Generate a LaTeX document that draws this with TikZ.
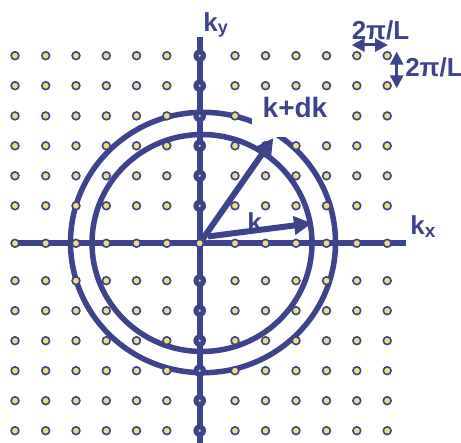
\documentclass[tikz,border=0pt]{standalone}
\usepackage{fontspec}
\setmainfont{Liberation Sans}
\usetikzlibrary{arrows.meta}
\definecolor{kblue}{RGB}{62,68,140}
\definecolor{kyellow}{RGB}{238,222,128}
\begin{document}
\begin{tikzpicture}[x=0.5pt, y=-0.5pt, >={Triangle[length=9pt,width=9pt]},
  latticept/.style={draw=kblue, fill=kyellow, line width=0.8pt},
  axisline/.style={draw=kblue, line width=3pt},
  shell/.style={draw=kblue, line width=2.75pt},
  vec/.style={draw=kblue, line width=3pt, ->},
  gap/.style={draw=kblue, line width=1.5pt, {Triangle[length=6.5pt,width=6.5pt]}-{Triangle[length=6.5pt,width=6.5pt]}},
  lbl/.style={text=kblue, font=\fontsize{13}{13}\selectfont\bfseries, inner sep=0pt}]
\useasboundingbox (0,0) rectangle (461,443);
\coordinate (O) at (199.7,243.3);
\coordinate (xl) at (12,243.3);
\coordinate (xr) at (406,243.3);
\coordinate (yt) at (199.7,37);
\coordinate (yb) at (199.7,443);
\coordinate (kstart) at (208,236.5);
\coordinate (ktip) at (312,223.2);
\coordinate (kdktip) at (273.3,138);
\coordinate (gl) at (351.7,45);
\coordinate (gr) at (388,45);
\coordinate (gt) at (396.7,51.7);
\coordinate (gb) at (396.7,88.3);
\draw[axisline] (xl) -- (xr);
\draw[axisline] (yt) -- (yb);
\draw[shell] (202,243) ellipse [x radius=110, y radius=108.5];
\draw[shell] (203,242.5) ellipse [x radius=132.5, y radius=130.2];
\foreach \x in {15,45.7,76,106.3,136.5,166.8,235,265.5,296,326.5,356.8,387.2} {
  \foreach \y in {55.7,85.7,115.9,145.8,175.8,205.8,280.7,310.7,340.7,370.7,400.7,430.7}
    \draw[latticept] (\x,\y) circle [radius=3.9];
  \draw[latticept] (\x,243.3) circle [radius=3.9];
}
\foreach \y in {55.7,85.7,115.9,145.8,175.8,205.8,280.7,310.7,340.7,370.7,400.7,430.7} {
  \fill[kblue] (199.7,\y) circle [radius=6.3];
  \fill[kyellow] (199.7,\y) circle [radius=1.2];
}
\node[lbl, font=\fontsize{14}{14}\selectfont\bfseries, fill=white, inner xsep=5.25pt, inner ysep=2.5pt, text depth=7pt, anchor=base] (kdk) at (295,118) {k+dk};
\node[lbl, anchor=base] (klbl) at (254.5,232) {k};
\draw[vec] (O) -- (kdktip);
\draw[vec] (kstart) -- (ktip);
\draw[latticept] (O) circle [radius=3.9];
\node[lbl, anchor=base west] (ky) at (203,32) {k\raisebox{-1pt}{\fontsize{9}{9}\selectfont y}};
\node[lbl, anchor=base west] (kx) at (410,235) {k\raisebox{-1.5pt}{\fontsize{9.5}{9.5}\selectfont x}};
\node[lbl, anchor=base] (gxlbl) at (380.5,40) {2π/L};
\node[lbl, anchor=base] (gylbl) at (434,77) {2π/L};
\draw[gap] (gl) -- (gr);
\draw[gap] (gt) -- (gb);
\end{tikzpicture}
\end{document}
